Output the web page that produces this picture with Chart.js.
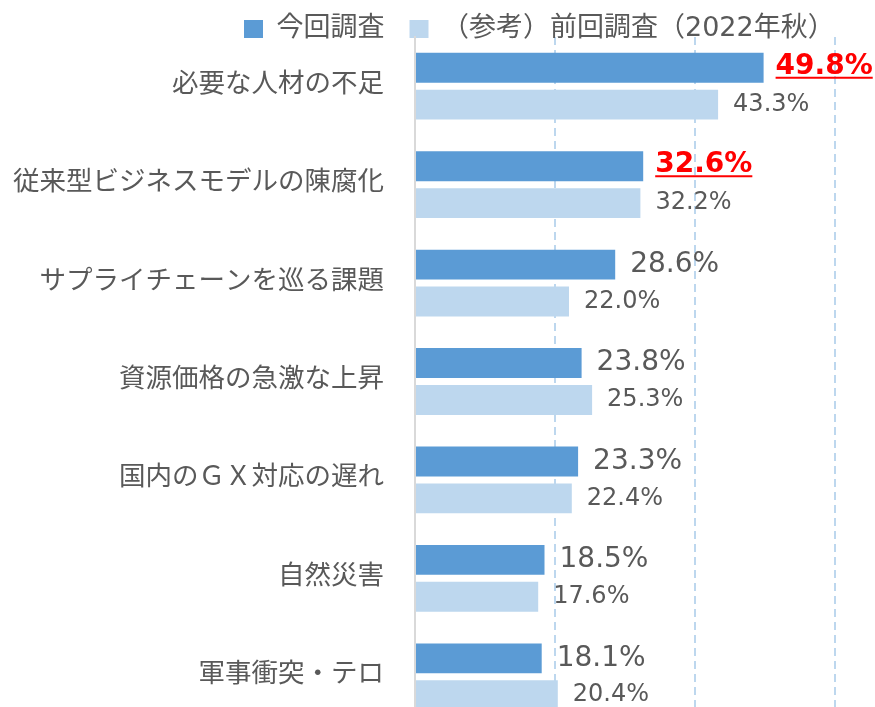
<!DOCTYPE html>
<html>
<head>
<meta charset="utf-8">
<script src="https://cdn.jsdelivr.net/npm/chart.js@4/dist/chart.umd.min.js"></script>
<style>
html,body{margin:0;padding:0;background:#fff;overflow:hidden}
#wrap{width:875px;height:707px;overflow:hidden;position:relative}
canvas{display:block}
</style>
</head>
<body>
<div id="wrap"><canvas id="c" width="875" height="730"></canvas></div>
<script>
const categories = [
  '必要な人材の不足',
  '従来型ビジネスモデルの陳腐化',
  'サプライチェーンを巡る課題',
  '資源価格の急激な上昇',
  '国内のＧＸ対応の遅れ',
  '自然災害',
  '軍事衝突・テロ'
];
const currentValues = [49.8, 32.6, 28.6, 23.8, 23.3, 18.5, 18.1];
const previousValues = [43.3, 32.2, 22.0, 25.3, 22.4, 17.6, 20.4];
const seriesNames = ['今回調査', '（参考）前回調査（2022年秋）'];
const highlightIndices = [0, 1];
const xMin = 0, xMax = 60, xStep = 20;

const TEXT = '#595959';
const LATIN = '"DejaVu Sans", "Noto Sans CJK JP", sans-serif';
const CJK = '"Noto Sans CJK JP", sans-serif';

const legendPlacer = {
  id: 'legendPlacer',
  afterLayout(chart) {
    const lg = chart.legend;
    if (!lg) return;
    lg.left = 219;
    lg.right = 875;
    lg.top = -9.5;
    lg.bottom = 56;
  }
};

const valueLabels = {
  id: 'valueLabels',
  afterDatasetsDraw(chart) {
    const ctx = chart.ctx;
    chart.data.datasets.forEach((ds, di) => {
      const meta = chart.getDatasetMeta(di);
      meta.data.forEach((bar, i) => {
        const txt = ds.data[i].toFixed(1) + '%';
        const hi = di === 0 && highlightIndices.includes(i);
        let font, color, gap, dy = 0;
        if (hi) { font = 'bold 28px ' + LATIN; color = '#FF0000'; gap = 12; dy = -1; }
        else if (di === 0) { font = '28px ' + LATIN; color = TEXT; gap = 15; }
        else { font = '24px ' + LATIN; color = TEXT; gap = 15; }
        ctx.save();
        ctx.font = font;
        ctx.fillStyle = color;
        ctx.textAlign = 'left';
        ctx.textBaseline = 'middle';
        const x = bar.x + gap, y = bar.y + dy;
        ctx.fillText(txt, x, y);
        if (hi) {
          const w = ctx.measureText(txt).width;
          ctx.strokeStyle = color;
          ctx.lineWidth = 2;
          ctx.beginPath();
          ctx.moveTo(x, y + 11);
          ctx.lineTo(x + w, y + 11);
          ctx.stroke();
        }
        ctx.restore();
      });
    });
  }
};

new Chart(document.getElementById('c'), {
  type: 'bar',
  data: {
    labels: categories,
    datasets: [
      { label: seriesNames[0], data: currentValues, backgroundColor: '#5B9BD5', borderWidth: 0,
        categoryPercentage: 0.75, barPercentage: 0.81 },
      { label: seriesNames[1], data: previousValues, backgroundColor: '#BDD7EE', borderWidth: 0,
        categoryPercentage: 0.75, barPercentage: 0.81 }
    ]
  },
  options: {
    indexAxis: 'y',
    responsive: false,
    animation: false,
    devicePixelRatio: 1,
    layout: { padding: { top: 0, right: 40, bottom: 4, left: 0 } },
    plugins: {
      tooltip: { enabled: false },
      legend: {
        position: 'top',
        align: 'start',
        maxHeight: 37,
        labels: {
          boxWidth: 19,
          boxHeight: 18,
          padding: 25,
          color: TEXT,
          font: { family: LATIN, size: 27 }
        }
      }
    },
    scales: {
      x: {
        min: xMin, max: xMax,
        ticks: { display: false, stepSize: xStep },
        grid: {
          drawTicks: false,
          lineWidth: 2,
          color: c => (c.tick && c.tick.value === 0) ? 'rgba(0,0,0,0)' : '#BDD7EE'
        },
        border: { display: false, dash: [8, 5] },
        afterFit(s) { s.paddingLeft = 0; s.paddingRight = 0; }
      },
      y: {
        ticks: {
          color: TEXT,
          font: { family: CJK, size: 26.5 },
          padding: 31,
          labelOffset: -4.5,
          autoSkip: false
        },
        grid: { display: false, drawTicks: false },
        border: { display: true, color: '#D9D9D9', width: 2 },
        afterFit(s) { s.width = 415; s.paddingTop = 0; s.paddingBottom = 0; }
      }
    }
  },
  plugins: [legendPlacer, valueLabels]
});
</script>
</body>
</html>
